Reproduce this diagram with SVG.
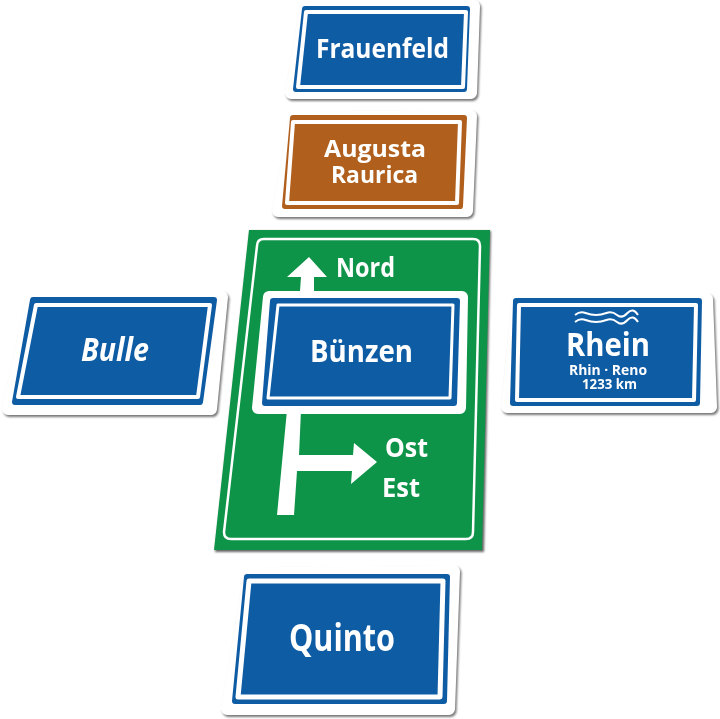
<svg xmlns="http://www.w3.org/2000/svg" width="720" height="719" viewBox="0 0 720 719">
<defs>
<filter id="soft" x="-10%" y="-10%" width="120%" height="120%"><feGaussianBlur stdDeviation="0.6"/></filter>
<filter id="sh" x="-10%" y="-10%" width="120%" height="120%"><feGaussianBlur stdDeviation="1.2"/></filter>
</defs>
<style>
.shadow{fill:#777;stroke:#777;stroke-width:12;stroke-linejoin:round;filter:url(#sh)}
.plate{fill:#fff;stroke:#fff;stroke-width:12;stroke-linejoin:round}
.blue{fill:#105ca4;stroke:#105ca4;stroke-width:6;stroke-linejoin:round}
.brown{fill:#b0601f;stroke:#b0601f;stroke-width:6;stroke-linejoin:round}
.line{fill:none;stroke:#fff;stroke-width:4;stroke-linejoin:round}
text{font-family:"Open Sans","Noto Sans","Liberation Sans",sans-serif;font-weight:700;fill:#fff;text-anchor:middle}
</style>
<rect width="720" height="719" fill="#fff"/>
<g filter="url(#soft)">
<g id="frauenfeld">
<polygon class="shadow" points="306,6 474,6 471,93 291,93" transform="translate(1.500,2)"/>
<polygon class="plate" points="306,6 474,6 471,93 291,93"/>
<polygon class="blue" points="305,9 467,9 464,89 296,89"/>
<polygon class="line" points="306,12 466,12 463,87 298,87"/>
<text x="382.500" y="58" font-size="26" textLength="133" lengthAdjust="spacingAndGlyphs">Frauenfeld</text>
</g>
<g id="augusta-raurica">
<polygon class="shadow" points="295,117 471,116 467,211 278,211" transform="translate(1.500,2)"/>
<polygon class="plate" points="295,117 471,116 467,211 278,211"/>
<polygon class="brown" points="293,118 464,118 460,206 285,206"/>
<polygon class="line" points="293,122 460,122 457,203 287,203"/>
<text x="375" y="157" font-size="24" textLength="102" lengthAdjust="spacingAndGlyphs">Augusta</text>
<text x="374.500" y="183" font-size="24" textLength="87" lengthAdjust="spacingAndGlyphs">Raurica</text>
</g>
<g id="green-sign">
<polygon points="250,231 491,231 484,552 215,552" fill="#666" filter="url(#sh)"/>
<polygon points="249,230 490,230 482,550 214,550" fill="#0f9448"/>
<path d="M264 239H473Q480 239 480 246L473 532Q473 539 466 539H231Q224 539 224 532L257 246Q257 239 264 239Z" fill="none" stroke="#fff" stroke-width="2.500"/>
<g id="arrow-nord">
<polygon points="300,291 301,277 287,277 309,257 327,277 314,277 314,291" fill="#fff"/>
<text x="365.500" y="277" font-size="26" textLength="59" lengthAdjust="spacingAndGlyphs">Nord</text>
</g>
<g id="arrow-ost">
<polygon points="287,410 301,410 299,455 353,455 354,443 377,462 351,484 352,471 297,471 294,515 277,515" fill="#fff"/>
<text x="406.500" y="457" font-size="27" textLength="43" lengthAdjust="spacingAndGlyphs">Ost</text>
<text x="401" y="497" font-size="27" textLength="38" lengthAdjust="spacingAndGlyphs">Est</text>
</g>
<g id="buenzen">
<polygon points="269,297 462,297 460,408 258,408" fill="#fff" stroke="#fff" stroke-width="12" stroke-linejoin="round"/>
<polygon class="blue" points="273,301 457,301 454,403 265,403"/>
<polygon class="line" points="278,305 453,305 450,398 268,398" style="stroke-width:3"/>
<text x="361.500" y="362" font-size="31" textLength="103" lengthAdjust="spacingAndGlyphs">Bünzen</text>
</g>
</g>
<g id="bulle">
<polygon class="shadow" points="32,297 222,297 211,409 8,409" transform="translate(1.500,2)"/>
<polygon class="plate" points="32,297 222,297 211,409 8,409"/>
<polygon class="blue" points="33,300 214,300 200,402 15,402"/>
<polygon class="line" points="36,305 210,305 198,397 18,397"/>
<text x="115" y="361" font-size="32" font-style="italic" textLength="68" lengthAdjust="spacingAndGlyphs">Bulle</text>
</g>
<g id="rhein">
<polygon class="shadow" points="518,299 707,299 711,407 507,407" transform="translate(1.500,2)"/>
<polygon class="plate" points="518,299 707,299 711,407 507,407"/>
<polygon class="blue" points="516,301 699,301 697,403 513,403"/>
<polygon class="line" points="519,305 696,305 694,400 517,400"/>
<path d="M575 315q5-4 10.500-2t10.500 2 10.500-2 10.500 2 10.500-2 10.500 2M575 322q5-4 10.500-2t10.500 2 10.500-2 10.500 2 10.500-2 10.500 2" fill="none" stroke="#fff" stroke-width="2"/>
<text x="608" y="356" font-size="33" textLength="84" lengthAdjust="spacingAndGlyphs">Rhein</text>
<text x="608" y="375" font-size="15" textLength="78" lengthAdjust="spacingAndGlyphs">Rhin · Reno</text>
<text x="609.500" y="388.500" font-size="15" textLength="55" lengthAdjust="spacingAndGlyphs">1233 km</text>
</g>
<g id="quinto">
<polygon class="shadow" points="250,573 454,571 449,709 227,709" transform="translate(1.500,2)"/>
<polygon class="plate" points="250,573 454,571 449,709 227,709"/>
<polygon class="blue" points="247,577 447,577 444,701 235,701"/>
<polygon class="line" points="249,581 443,581 440,697 238,697" style="stroke-width:5"/>
<text x="342" y="651" font-size="37" textLength="106" lengthAdjust="spacingAndGlyphs">Quinto</text>
</g>
</g>
</svg>
